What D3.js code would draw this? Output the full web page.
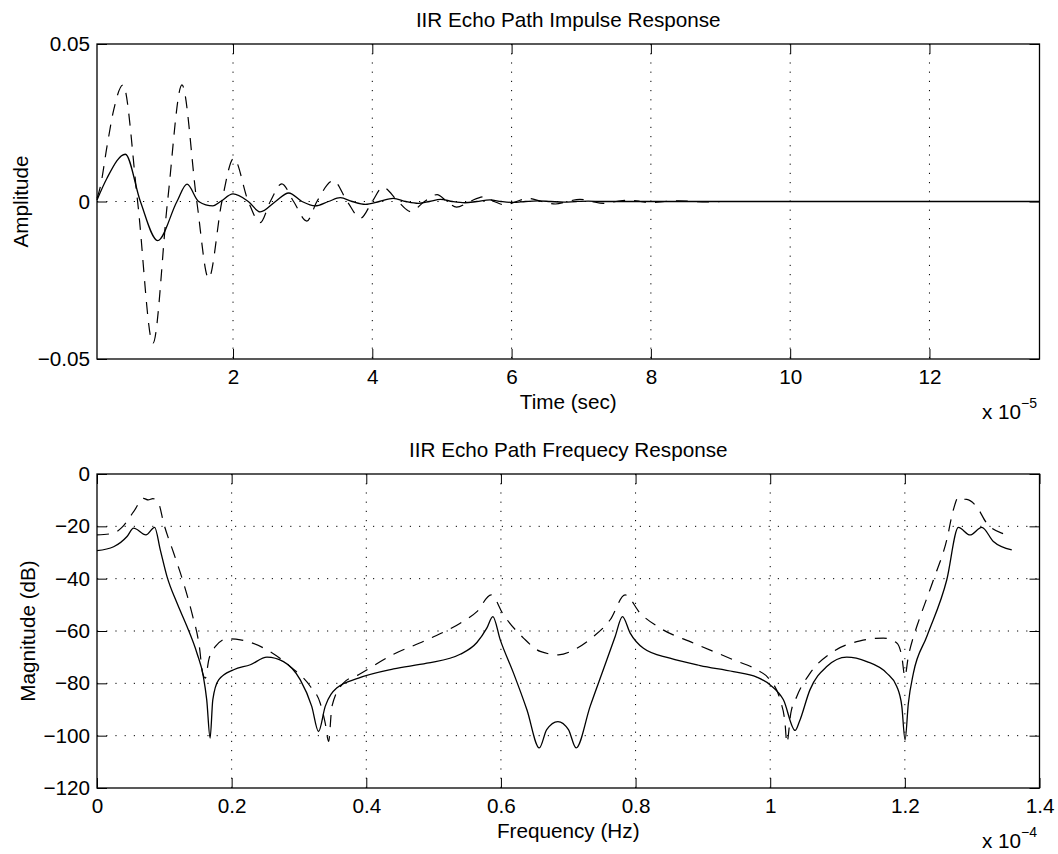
<!DOCTYPE html>
<html>
<head>
<meta charset="utf-8">
<script src="https://cdn.jsdelivr.net/npm/d3@7"></script>
<style>
  body { margin: 0; background: #fff; }
  svg text { font-family: "Liberation Sans", Arial, Helvetica, sans-serif; font-size: 20.7px; fill: #000; }
</style>
</head>
<body>
<div id="chart"></div>
<script>
// impulse response, time in units of 1e-5 sec : [time, amplitude]
var impulseSolid = [
  [0.047, 0.0005], [0.19, 0.0074], [0.454, 0.015], [0.67, 0], [0.918, -0.0124], [1.195, 0],
  [1.339, 0.0055], [1.506, 0], [1.712, -0.0014], [1.82, 0], [2.0, 0.0024], [2.22, 0],
  [2.39, -0.0033], [2.61, 0], [2.80, 0.0027], [2.99, 0], [3.18, -0.0014], [3.37, 0],
  [3.54, 0.0012], [3.71, 0], [3.9, -0.0009], [4.1, 0], [4.30, 0.001], [4.48, 0],
  [4.66, -0.0006], [4.82, 0], [4.98, 0.0007], [5.15, 0], [5.33, -0.0004], [5.5, 0],
  [5.69, 0.0005], [5.85, 0], [6.02, -0.0003], [6.2, 0], [6.38, 0.0002], [6.56, 0],
  [6.75, -0.0002], [6.93, 0], [7.1, 0.0001], [7.3, 0], [13.58, 0]
];
var impulseDashed = [
  [0.047, 0.001], [0.095, 0.0047], [0.19, 0.0174], [0.286, 0.029], [0.42, 0.037], [0.63, 0],
  [0.85, -0.045], [1.06, 0], [1.267, 0.037], [1.48, 0], [1.65, -0.0244], [1.84, 0],
  [2.01, 0.0137], [2.22, 0], [2.39, -0.0067], [2.535, 0], [2.70, 0.0056], [2.87, 0],
  [3.06, -0.0062], [3.205, 0], [3.44, 0.0066], [3.64, 0], [3.83, -0.0053], [4.0, 0],
  [4.15, 0.0045], [4.37, 0], [4.55, -0.0032], [4.75, 0], [4.93, 0.0022], [5.07, 0],
  [5.21, -0.0018], [5.4, 0], [5.6, 0.0015], [5.75, 0], [5.91, -0.0011], [6.07, 0],
  [6.24, 0.001], [6.43, 0], [6.63, -0.0008], [6.8, 0], [6.98, 0.0007], [7.15, 0],
  [7.32, -0.0006], [7.5, 0], [7.68, 0.0004], [7.85, 0], [8.02, -0.0003], [8.2, 0],
  [8.4, 0.0002], [8.6, 0], [8.8, -0.0001], [9.0, 0], [13.58, 0]
];

// frequency response, frequency in units of 1e-4 Hz : [freq, dB]
var freqSolid = [
  [0, -29.3], [0.0247, -27.8], [0.0446, -23.9], [0.0544, -20.7], [0.0727, -23.3], [0.0856, -20.4],
  [0.094, -29], [0.104, -39.2], [0.119, -49.4], [0.1337, -58.3], [0.1485, -68.5], [0.158, -77.4],
  [0.163, -86.3], [0.168, -100.9], [0.172, -86.3], [0.1807, -78.7], [0.203, -74.8], [0.2277, -72.9],
  [0.2525, -70.0], [0.277, -71.7], [0.302, -78.7], [0.319, -88.8], [0.329, -98.4], [0.339, -88.8],
  [0.356, -81.8], [0.3885, -78], [0.4405, -74.5], [0.49, -72.3], [0.5395, -68.9], [0.5643, -64.4],
  [0.579, -58.9], [0.588, -54.5], [0.599, -63.4], [0.6187, -76.1], [0.6386, -90.1], [0.657, -104.7],
  [0.668, -97.7], [0.6846, -94.6], [0.7003, -97.7], [0.7117, -104.7], [0.7325, -88.8], [0.752, -74.8],
  [0.7697, -62.1], [0.7805, -54.5], [0.792, -60.8], [0.8117, -66.6], [0.851, -70.4], [0.8959, -73.2],
  [0.9453, -75.5], [0.98, -77.6], [1.0, -80.6], [1.0196, -86.3], [1.037, -98.0], [1.0434, -94.6],
  [1.059, -82.5], [1.084, -73.6], [1.1137, -70], [1.1435, -71.7], [1.173, -76.1], [1.188, -81.2],
  [1.1955, -88.8], [1.2003, -101.6], [1.2052, -87.6], [1.2127, -76.1], [1.2326, -62.1], [1.2622, -40.5],
  [1.2795, -20.4], [1.2968, -23.3], [1.3142, -20.4], [1.3315, -25.8], [1.3588, -29]
];
var freqDashed = [
  [0, -23.3], [0.0247, -22.6], [0.037, -20.4], [0.0544, -14.4], [0.069, -9.3], [0.076, -9.9],
  [0.083, -9.4], [0.0915, -11.2], [0.099, -18.8], [0.114, -30.3], [0.1286, -41.7], [0.141, -53.2],
  [0.152, -65.9], [0.157, -76.1], [0.161, -78], [0.166, -71], [0.176, -65.9], [0.193, -63],
  [0.213, -63.4], [0.2525, -67.2], [0.287, -73.6], [0.317, -81.2], [0.3316, -87.6], [0.339, -95.2],
  [0.344, -102.2], [0.349, -88.8], [0.366, -79.9], [0.3885, -76.7], [0.4405, -68.9], [0.49, -63.4],
  [0.5395, -57], [0.5643, -52.6], [0.5855, -46.2], [0.6038, -53.8], [0.6335, -62.7], [0.6583, -67.8],
  [0.6855, -69.1], [0.7128, -66.6], [0.7375, -62.1], [0.7623, -55.7], [0.7845, -46.2], [0.8068, -53.2],
  [0.8365, -58.9], [0.886, -64.6], [0.9453, -71], [0.98, -74.8], [0.9973, -78], [1.0147, -86.3],
  [1.022, -95.2], [1.0247, -102.8], [1.0306, -91.4], [1.0395, -85], [1.0593, -76.1], [1.094, -67.8],
  [1.1335, -63.8], [1.168, -62.7], [1.188, -64.6], [1.1955, -69.8], [1.2, -77.4], [1.205, -70],
  [1.213, -62], [1.2177, -58.3], [1.2424, -40.5], [1.2622, -25.2], [1.272, -13.7], [1.2795, -8.9],
  [1.286, -9.6], [1.292, -9.7], [1.3067, -12.5], [1.3216, -18.8], [1.344, -22.6], [1.3588, -23.3]
];

// tick values and labels
var timeTicks = [2, 4, 6, 8, 10, 12];
var timeTickLabels = ["2", "4", "6", "8", "10", "12"];
var ampTicks = [-0.05, 0, 0.05];
var ampTickLabels = ["\u22120.05", "0", "0.05"];
var freqTicks = [0, 0.2, 0.4, 0.6, 0.8, 1, 1.2, 1.4];
var freqTickLabels = ["0", "0.2", "0.4", "0.6", "0.8", "1", "1.2", "1.4"];
var magTicks = [-120, -100, -80, -60, -40, -20, 0];
var magTickLabels = ["\u2212120", "\u2212100", "\u221280", "\u221260", "\u221240", "\u221220", "0"];

var svg = d3.select("#chart")
  .append("svg")
    .attr("width", 1058)
    .attr("height", 854);

// draw one axes box with grid, curves, ticks and labels
function drawPanel(p) {
  var x = d3.scaleLinear().domain(p.xDomain).range([p.left, p.right]);
  var y = d3.scaleLinear().domain(p.yDomain).range([p.bottom, p.top]);
  var g = svg.append("g");

  // dotted grid on the inner ticks
  var vx = p.xTicks.filter(function(d) { return x(d) > p.left + 1 && x(d) < p.right - 1; });
  var hy = p.yTicks.filter(function(d) { return y(d) < p.bottom - 1 && y(d) > p.top + 1; });
  g.selectAll(".vgrid").data(vx).enter().append("line")
    .attr("x1", function(d) { return x(d); })
    .attr("x2", function(d) { return x(d); })
    .attr("y1", p.top).attr("y2", p.bottom)
    .attr("stroke", "#000").attr("stroke-width", 1)
    .attr("stroke-dasharray", "1.2,8");
  g.selectAll(".hgrid").data(hy).enter().append("line")
    .attr("y1", function(d) { return y(d); })
    .attr("y2", function(d) { return y(d); })
    .attr("x1", p.left).attr("x2", p.right)
    .attr("stroke", "#000").attr("stroke-width", 1)
    .attr("stroke-dasharray", "1.2,8");

  // curves
  var line = d3.line()
    .x(function(d) { return x(d[0]); })
    .y(function(d) { return y(d[1]); })
    .curve(d3.curveMonotoneX);
  g.append("path").datum(p.dashed)
    .attr("d", line)
    .attr("fill", "none").attr("stroke", "#000").attr("stroke-width", 1.2)
    .attr("stroke-dasharray", "12,9");
  g.append("path").datum(p.solid)
    .attr("d", line)
    .attr("fill", "none").attr("stroke", "#000").attr("stroke-width", 1.3);

  // axes, ticks pointing inward on all four sides
  function fmt(labels, ticks) {
    return function(d) { return labels[ticks.indexOf(d)]; };
  }
  g.append("g")
    .attr("transform", "translate(0," + p.bottom + ")")
    .call(d3.axisBottom(x).tickValues(p.xTicks).tickFormat(fmt(p.xLabels, p.xTicks))
      .tickSizeInner(-10).tickSizeOuter(0))
    .call(function(a) { a.select(".domain").remove(); })
    .selectAll("text").attr("y", 25).attr("dy", null);
  g.append("g")
    .attr("transform", "translate(0," + p.top + ")")
    .call(d3.axisTop(x).tickValues(p.xTicks).tickFormat("").tickSizeInner(-10).tickSizeOuter(0))
    .call(function(a) { a.select(".domain").remove(); });
  g.append("g")
    .attr("transform", "translate(" + p.left + ",0)")
    .call(d3.axisLeft(y).tickValues(p.yTicks).tickFormat(fmt(p.yLabels, p.yTicks))
      .tickSizeInner(-10).tickSizeOuter(0).tickPadding(7))
    .call(function(a) { a.select(".domain").remove(); });
  g.append("g")
    .attr("transform", "translate(" + p.right + ",0)")
    .call(d3.axisRight(y).tickValues(p.yTicks).tickFormat("").tickSizeInner(-10).tickSizeOuter(0))
    .call(function(a) { a.select(".domain").remove(); });
  g.selectAll(".tick line").attr("stroke", "#000").attr("stroke-width", 1);

  // box
  g.append("rect")
    .attr("x", p.left).attr("y", p.top)
    .attr("width", p.right - p.left).attr("height", p.bottom - p.top)
    .attr("fill", "none").attr("stroke", "#000").attr("stroke-width", 1.3);

  // title and axis labels
  var cx = (p.left + p.right) / 2;
  g.append("text").attr("x", cx).attr("y", p.top - 17)
    .attr("text-anchor", "middle").text(p.title);
  g.append("text").attr("x", cx).attr("y", p.bottom + 50)
    .attr("text-anchor", "middle").text(p.xTitle);
  g.append("text")
    .attr("transform", "translate(" + p.yTitleX + "," + ((p.top + p.bottom) / 2) + ") rotate(-90)")
    .attr("text-anchor", "middle").text(p.yTitle);

  // x 10^n multiplier
  var ex = g.append("text").attr("x", 982).attr("y", p.bottom + 60);
  ex.append("tspan").text("x 10");
  ex.append("tspan").attr("dy", -11).style("font-size", "14px").text(p.exponent);
}

drawPanel({
  left: 97, right: 1039.5, top: 44, bottom: 359,
  xDomain: [0.047, 13.58], yDomain: [-0.05, 0.05],
  xTicks: timeTicks, xLabels: timeTickLabels,
  yTicks: ampTicks, yLabels: ampTickLabels,
  solid: impulseSolid, dashed: impulseDashed,
  title: "IIR Echo Path Impulse Response",
  xTitle: "Time (sec)", yTitle: "Amplitude", yTitleX: 28,
  exponent: "\u22125"
});

drawPanel({
  left: 97, right: 1039.5, top: 474, bottom: 788,
  xDomain: [0, 1.4], yDomain: [-120, 0],
  xTicks: freqTicks, xLabels: freqTickLabels,
  yTicks: magTicks, yLabels: magTickLabels,
  solid: freqSolid, dashed: freqDashed,
  title: "IIR Echo Path Frequecy Response",
  xTitle: "Frequency (Hz)", yTitle: "Magnitude (dB)", yTitleX: 35,
  exponent: "\u22124"
});
</script>
</body>
</html>
